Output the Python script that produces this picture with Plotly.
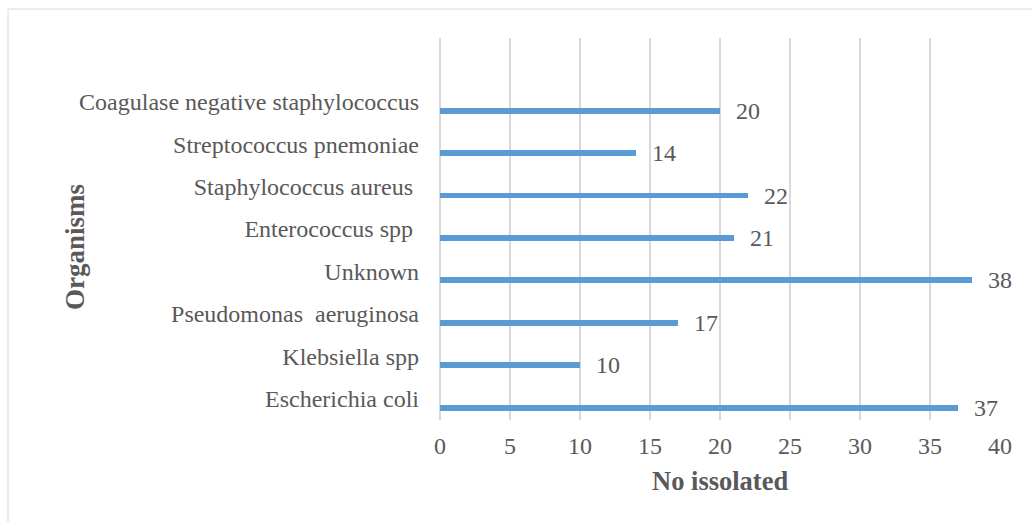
import plotly.graph_objects as go

organisms = [
    "Escherichia coli",
    "Klebsiella spp",
    "Pseudomonas\u00a0\u00a0aeruginosa",
    "Unknown",
    "Enterococcus spp\u00a0",
    "Staphylococcus aureus\u00a0",
    "Streptococcus pnemoniae",
    "Coagulase negative staphylococcus",
]
counts = [37, 10, 17, 38, 21, 22, 14, 20]
x_ticks = [0, 5, 10, 15, 20, 25, 30, 35, 40]

FONT = "Liberation Serif, Times New Roman, serif"
GREY = "#595959"
BLUE = "#5B9BD5"
GRID = "#D9D9D9"

fig = go.Figure()
fig.add_trace(go.Bar(
    y=organisms, x=counts, orientation="h",
    marker=dict(color=BLUE, line=dict(width=0)),
    width=0.14, offset=-0.28, hoverinfo="x+y",
))

# data labels
for o, c in zip(organisms, counts):
    fig.add_annotation(x=c, y=o, xref="x", yref="y", text=str(c),
                       showarrow=False, xanchor="left", yanchor="middle",
                       xshift=14, yshift=-9,
                       font=dict(family=FONT, size=24, color=GREY))

# axis titles
fig.add_annotation(x=0.5, y=0, xref="paper", yref="paper", text="<b>No issolated</b>",
                   showarrow=False, xanchor="center", yanchor="middle", yshift=-61,
                   font=dict(family=FONT, size=26.5, color=GREY))
fig.add_annotation(x=0, y=0.5, xref="paper", yref="paper", text="<b>Organisms</b>",
                   showarrow=False, xanchor="center", yanchor="middle", textangle=-90,
                   xshift=-365, yshift=-18,
                   font=dict(family=FONT, size=27, color=GREY))

# outer frame (partially visible)
fig.add_shape(type="rect", xref="paper", yref="paper",
              x0=-0.7714, y0=-0.5, x1=1.2, y1=1.0759,
              line=dict(color=GRID, width=1), fillcolor="rgba(0,0,0,0)", layer="below")

fig.update_layout(
    width=1032, height=522,
    margin=dict(l=440, r=32, t=38, b=102),
    paper_bgcolor="white", plot_bgcolor="white",
    showlegend=False,
    font=dict(family=FONT, size=24, color=GREY),
    xaxis=dict(range=[0, 40], tickvals=x_ticks, showgrid=True, gridcolor=GRID, gridwidth=2,
               zeroline=True, zerolinecolor=GRID, zerolinewidth=2, showline=False,
               ticks="", ticklabelstandoff=9, fixedrange=True,
               tickfont=dict(family=FONT, size=24, color=GREY)),
    yaxis=dict(type="category", categoryorder="array", categoryarray=organisms,
               range=[-0.5, 8.5], showgrid=False, zeroline=False, showline=False,
               ticks="", ticklabelstandoff=20, fixedrange=True,
               tickfont=dict(family=FONT, size=24, color=GREY)),
    bargap=0,
)

fig.write_html("out.html")
